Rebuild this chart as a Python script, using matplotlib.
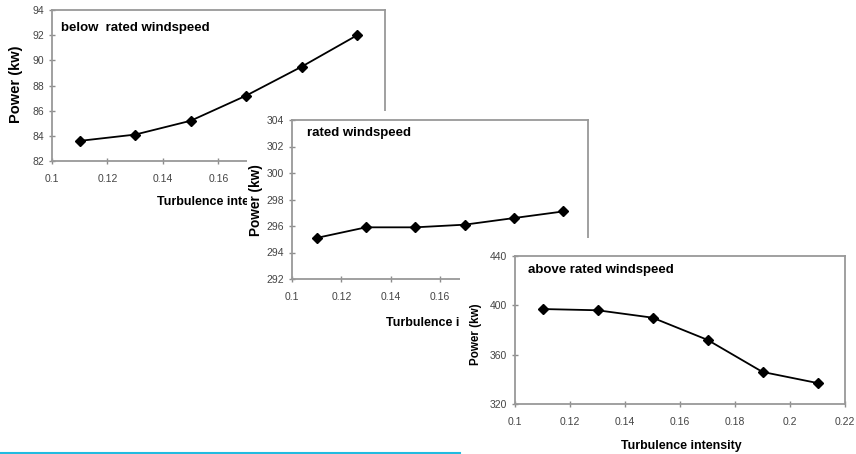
import matplotlib
matplotlib.use("Agg")
import matplotlib.pyplot as plt
from matplotlib.lines import Line2D

plt.rcParams['font.family'] = ['Liberation Sans', 'DejaVu Sans']

# turbulence intensity on the x axis (same for all three runs)
turbulence = [0.11, 0.13, 0.15, 0.17, 0.19, 0.21]
x_ticks = [0.1, 0.12, 0.14, 0.16, 0.18, 0.2, 0.22]
x_tick_labels = ['0.1', '0.12', '0.14', '0.16', '0.18', '0.2', '0.22']

# mean power output (kw) per windspeed regime
power_below = [83.6, 84.1, 85.2, 87.2, 89.5, 92.0]
power_rated = [295.1, 295.9, 295.9, 296.1, 296.6, 297.1]
power_above = [397, 396, 390, 372, 346, 337]

y_ticks_below = [82, 84, 86, 88, 90, 92, 94]
y_ticks_rated = [292, 294, 296, 298, 300, 302, 304]
y_ticks_above = [320, 360, 400, 440]

W, H = 856, 454
fig = plt.figure(figsize=(W / 100, H / 100), dpi=100)
fig.patch.set_facecolor('white')


def px_box(x0, y0, x1, y1):
    # pixel box (top-left origin) -> figure fraction rect
    return [x0 / W, 1 - y1 / H, (x1 - x0) / W, (y1 - y0) / H]


def white_panel(x0, y0, x1, y1):
    bg = fig.add_axes(px_box(x0, y0, x1, y1))
    bg.set_facecolor('white')
    bg.set_xticks([])
    bg.set_yticks([])
    for s in bg.spines.values():
        s.set_visible(False)
    return bg


def draw_chart(box, y, yticks, title, title_xy, ylabel_xy, ylabel_size,
               xlabel_xy, xlabel_size):
    ax = fig.add_axes(px_box(*box))
    ax.plot(turbulence, y, color='black', lw=1.3, marker='D', ms=5.5,
            mec='black', mfc='black')
    ax.set_xlim(0.1, 0.22)
    ax.set_ylim(yticks[0], yticks[-1])
    ax.set_xticks(x_ticks)
    ax.set_xticklabels(x_tick_labels)
    ax.set_yticks(yticks)
    ax.tick_params(direction='inout', length=5, width=1, color='#8c8c8c',
                   labelsize=7.5, labelcolor='#444444')
    ax.tick_params(axis='x', pad=7)
    ax.tick_params(axis='y', pad=3)
    for s in ax.spines.values():
        s.set_color('#999999')
        s.set_linewidth(1.3)
    ax.set_facecolor('white')

    def to_ax(p):
        return ((p[0] - box[0]) / (box[2] - box[0]),
                1 - (p[1] - box[1]) / (box[3] - box[1]))

    ax.text(*to_ax(title_xy), title, transform=ax.transAxes, fontsize=9.5,
            fontweight='bold', ha='left', va='center', clip_on=False)
    ax.text(*to_ax(ylabel_xy), 'Power (kw)', transform=ax.transAxes,
            fontsize=ylabel_size, fontweight='bold', rotation=90,
            ha='center', va='center', clip_on=False)
    ax.text(*to_ax(xlabel_xy), 'Turbulence intensity', transform=ax.transAxes,
            fontsize=xlabel_size, fontweight='bold', ha='center',
            va='center', clip_on=False)
    return ax


# below rated windspeed (back)
draw_chart((52, 10, 385, 161), power_below, y_ticks_below,
           'below  rated windspeed', (61, 28), (16, 84), 10.5, (218, 202), 9)

# rated windspeed (middle)
white_panel(247, 111, 720, 360)
draw_chart((292, 120, 588, 279), power_rated, y_ticks_rated,
           'rated windspeed', (307, 133), (256, 200), 9.8, (447, 323), 9)

# above rated windspeed (front)
white_panel(460, 238, 856, 454)
draw_chart((515, 256, 845, 404), power_above, y_ticks_above,
           'above rated windspeed', (528, 270), (476, 334), 8.4, (681, 446), 8.9)

fig.add_artist(Line2D([0, 460 / W], [1.5 / H, 1.5 / H], color='#22bbe0',
                      lw=1.5, transform=fig.transFigure))

fig.savefig('out.png', dpi=100, facecolor='white')
